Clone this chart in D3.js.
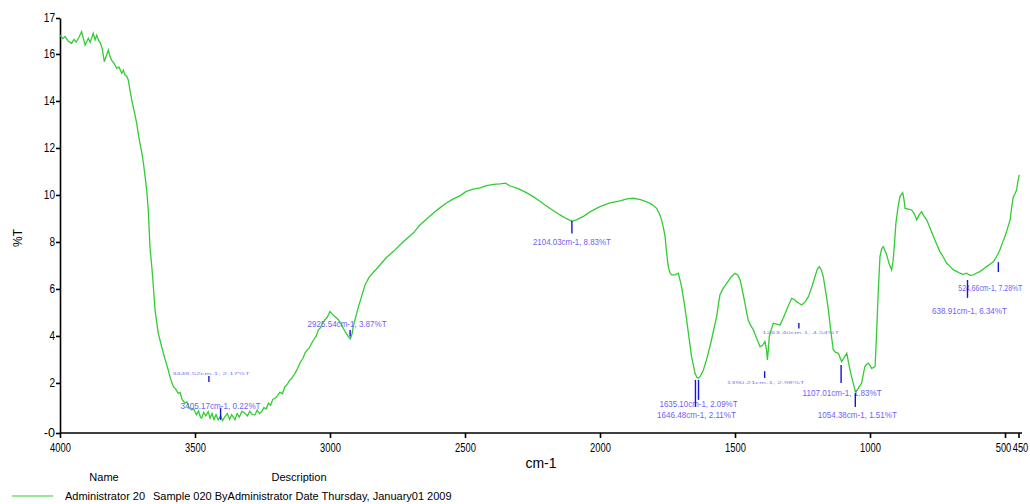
<!DOCTYPE html>
<meta charset="utf-8">
<style>
  body { margin: 0; background: #fff; }
  svg { font-family: "Liberation Sans Narrow", "Liberation Sans", Arial, sans-serif; }
  .axis path, .axis line { stroke: #000; stroke-width: 1.6px; }
  .axis text { font-size: 12px; fill: #000; }
  .peak-label { font-size: 9px; fill: #6f5ff5; }
  .peak-tick { stroke: #1414d8; stroke-width: 1.4px; }
</style>
<body>
<script src="https://d3js.org/d3.v7.min.js"></script>
<script>
// spectrum (wavenumber cm-1, %T)
var wavenumber = [4000,3990,3981,3970,3957,3948,3940,3930,3920,3912,3907,3900,3895,3888,3877,3870,3864,3858,3850,3843,3836,3829,3821,3815,3809,3800,3790,3782,3771,3765,3759,3753,3747,3740,3734,3728,3722,3716,3710,3704,3697,3691,3685,3679,3673,3670,3667,3662,3658,3653,3648,3642,3636,3627,3617,3608,3599,3590,3580,3572,3562,3555,3548,3537,3530,3522,3512,3505,3495,3487,3480,3475,3468,3460,3451,3444,3437,3430,3422,3414,3405,3398,3389,3380,3372,3364,3352,3344,3336,3326,3315,3306,3297,3288,3278,3270,3261,3253,3245,3236,3228,3220,3212,3204,3195,3186,3176,3167,3158,3150,3142,3133,3125,3117,3109,3100,3093,3085,3076,3068,3060,3051,3043,3035,3027,3019,3010,3000,2990,2981,2970,2957,2945,2932,2925,2918,2914,2905,2893,2880,2870,2855,2840,2828,2815,2790,2765,2741,2715,2690,2667,2640,2615,2593,2570,2545,2519,2495,2470,2444,2420,2395,2370,2350,2333,2305,2278,2250,2225,2204,2175,2148,2125,2104,2085,2060,2037,2000,1963,1926,1900,1877,1850,1827,1808,1790,1780,1772,1765,1759,1753,1747,1741,1735,1722,1710,1704,1698,1688,1679,1670,1661,1654,1648,1642,1636,1628,1617,1605,1593,1580,1568,1562,1556,1545,1531,1515,1500,1490,1481,1472,1463,1457,1451,1442,1432,1420,1407,1398,1389,1383,1380,1376,1373,1365,1358,1345,1333,1320,1309,1300,1290,1280,1272,1262,1253,1240,1228,1215,1204,1195,1188,1180,1173,1163,1154,1145,1136,1127,1117,1110,1105,1095,1086,1080,1074,1068,1062,1054,1047,1039,1031,1025,1019,1012,1006,1000,994,988,981,975,969,963,957,951,945,938,930,920,914,909,904,896,889,879,874,870,858,846,836,827,818,809,800,790,778,765,753,741,728,716,703,691,679,667,655,642,630,617,605,593,580,568,556,543,530,519,510,500,490,481,475,469,463,457,452,447];
var transmittance = [16.8,16.65,16.74,16.55,16.45,16.62,16.5,16.7,16.95,16.6,16.38,16.55,16.67,16.5,16.88,16.6,16.8,16.6,16.45,16.2,15.67,15.9,16.17,15.9,15.74,15.6,15.39,15.45,15.18,15.3,15.1,15.05,14.89,14.4,14.04,13.7,13.4,13.05,12.6,12.2,11.8,11.35,10.8,10.21,9.36,8.6,7.8,7.2,6.67,5.9,5.1,4.6,4.11,3.7,3.26,2.9,2.55,2.15,1.84,1.75,1.56,1.6,1.3,1.14,1.2,0.95,0.85,0.9,0.65,0.8,0.55,0.5,0.75,0.6,0.78,0.5,0.7,0.45,0.65,0.43,0.6,0.4,0.57,0.7,0.45,0.65,0.43,0.7,0.55,0.8,0.71,0.6,0.8,0.65,0.64,0.85,0.7,0.78,0.95,0.9,1.14,1.05,1.3,1.35,1.45,1.6,1.55,1.84,1.95,2.1,2.2,2.35,2.5,2.7,2.9,3.05,3.26,3.4,3.5,3.69,3.85,4.0,4.26,4.35,4.55,4.68,4.8,5.04,4.9,4.82,4.7,4.47,4.2,3.97,3.87,4.1,4.4,4.8,5.3,5.8,6.17,6.5,6.7,6.85,7.02,7.35,7.6,7.87,8.15,8.4,8.72,9.0,9.25,9.45,9.65,9.82,9.96,10.15,10.25,10.3,10.4,10.45,10.47,10.5,10.38,10.28,10.13,9.95,9.75,9.57,9.35,9.15,9.0,8.88,8.95,9.1,9.28,9.5,9.66,9.75,9.83,9.86,9.8,9.71,9.6,9.43,9.2,8.94,8.6,8.23,7.5,6.95,6.7,6.6,6.6,6.67,6.4,6.1,5.4,4.68,3.9,3.12,2.75,2.41,2.25,2.2,2.3,2.55,3.0,3.54,4.2,4.82,5.3,5.74,6.0,6.24,6.5,6.67,6.6,6.38,5.9,5.39,5.0,4.68,4.45,4.26,3.9,3.54,3.6,3.76,3.4,2.98,3.5,3.97,4.3,4.54,4.5,4.47,4.8,5.1,5.35,5.6,5.55,5.46,5.38,5.32,5.45,5.67,6.1,6.52,6.85,6.95,6.8,6.52,5.8,5.1,4.2,3.4,3.3,3.26,3.05,2.91,3.1,3.26,2.9,2.55,2.25,1.99,1.62,1.7,1.85,1.99,2.35,2.7,2.8,2.84,2.75,2.62,2.65,2.7,4.26,6.0,7.38,7.7,7.8,7.65,7.45,7.1,6.81,7.23,8.0,8.8,9.5,9.93,10.1,9.8,9.43,9.4,9.36,9.2,8.94,9.15,9.29,9.1,8.94,8.6,8.23,7.9,7.59,7.35,7.09,6.95,6.81,6.75,6.67,6.62,6.67,6.58,6.6,6.68,6.74,6.85,6.95,7.05,7.16,7.4,7.66,7.95,8.23,8.6,8.94,9.5,9.93,10.05,10.21,10.6,10.85];

var xTicks = [4000, 3500, 3000, 2500, 2000, 1500, 1000, 500, 450];
var yTickValues = [2, 4, 6, 8, 10, 12, 14, 16];
var yMin = -0.13, yMax = 17.53;
var yEndLabels = ["-0", "17"];

// peak annotations
var peakWn = [3405.17, 3448.52, 2925.54, 2104.03, 1635.10, 1646.48, 1390.21, 1263.40, 1107.01, 1054.38, 524.66, 638.91];
var peakText = ["3405.17cm-1, 0.22%T", "3448.52cm-1, 2.17%T", "2925.54cm-1, 3.87%T", "2104.03cm-1, 8.83%T",
  "1635.10cm-1, 2.09%T", "1646.48cm-1, 2.11%T", "1390.21cm-1, 2.98%T", "1263.40cm-1, 4.54%T",
  "1107.01cm-1, 1.83%T", "1054.38cm-1, 1.51%T", "524.66cm-1, 7.28%T", "638.91cm-1, 6.34%T"];

var legendName = "Administrator 20";
var legendDesc = "Sample 020 ByAdministrator Date Thursday, January01 2009";

var width = 1030, height = 504;
var svg = d3.select("body").append("svg")
  .attr("width", width).attr("height", height);

var x = d3.scaleLinear().domain([4000, 450]).range([60, 1018.5]);
var y = d3.scaleLinear().domain([yMin, yMax]).range([433, 18]);

// narrow tick labels, like the instrument software draws them
function squeeze(sel, perChar) {
  sel.each(function() {
    var n = this.textContent.length;
    d3.select(this).attr("textLength", n * perChar).attr("lengthAdjust", "spacingAndGlyphs");
  });
}

// x axis
var xAxis = svg.append("g").attr("class", "axis")
  .attr("transform", "translate(0,433)")
  .call(d3.axisBottom(x).tickValues(xTicks).tickSize(5).tickSizeOuter(0).tickFormat(d3.format("d")));
xAxis.select(".domain").attr("d", "M60,0H1022");
xAxis.selectAll("text").attr("dy", "0.9em").call(squeeze, 5.2);
// the last two labels sit side by side
xAxis.selectAll(".tick text").filter(function(d) { return d === 500; }).attr("x", -2);
xAxis.selectAll(".tick text").filter(function(d) { return d === 450; }).attr("x", 1.5);

// y axis
var yAxis = svg.append("g").attr("class", "axis")
  .attr("transform", "translate(60,0)")
  .call(d3.axisLeft(y).tickValues([yMin].concat(yTickValues, [yMax])).tickSize(4).tickSizeOuter(0)
    .tickFormat(function(d, i) {
      if (i === 0) return yEndLabels[0];
      if (d === yMax) return yEndLabels[1];
      return d;
    }));
yAxis.selectAll("text").attr("x", -5).call(squeeze, 5.6);

// axis titles
svg.append("text").attr("transform", "translate(22,238) rotate(-90)")
  .attr("text-anchor", "middle").style("font-size", "12px").text("%T");
svg.append("text").attr("x", 541).attr("y", 468)
  .attr("text-anchor", "middle").style("font-size", "14px").text("cm-1");

// spectrum
var pts = wavenumber.map(function(w, i) { return [w, transmittance[i]]; });
var line = d3.line().x(function(d) { return x(d[0]); }).y(function(d) { return y(d[1]); });
svg.append("path").datum(pts)
  .attr("d", line)
  .attr("fill", "none")
  .attr("stroke", "#33cc33")
  .attr("stroke-width", 1.3);

// annotation layout: [tick top %T, tick bottom %T, label centre dx, label %T, label width, squashed]
var annLayout = [
  [0.94, 0.43, 0, 1.0, 80, 0],
  [2.3, 2.04, 2, 2.47, 78, 1],
  [4.25, 3.98, -3, 4.5, 79, 0],
  [8.9, 8.36, 0, 7.98, 78, 0],
  [2.13, 1.28, 0, 1.1, 78, 0],
  [2.13, 0.98, 1, 0.62, 79, 0],
  [2.5, 2.21, 1, 2.1, 78, 1],
  [4.55, 4.32, 2, 4.2, 77, 1],
  [2.76, 2.0, 1, 1.57, 79, 0],
  [1.57, 0.98, 2, 0.63, 79, 0],
  [7.14, 6.72, -8, 6.06, 64, 0],
  [6.38, 5.62, 2, 5.08, 75, 0]
];

var ann = svg.append("g");
peakWn.forEach(function(w, i) {
  var L = annLayout[i];
  var px = x(w);
  ann.append("line").attr("class", "peak-tick")
    .attr("x1", px).attr("x2", px)
    .attr("y1", y(L[0])).attr("y2", y(L[1]));
  var t = ann.append("text").attr("class", "peak-label")
    .attr("x", px + L[2] - L[4] / 2).attr("y", y(L[3]) + 3)
    .attr("textLength", L[4]).attr("lengthAdjust", "spacingAndGlyphs")
    .text(peakText[i]);
  if (L[5]) t.style("font-size", "4px").style("opacity", 0.85);
});

// legend
svg.append("text").attr("x", 104).attr("y", 481).attr("text-anchor", "middle")
  .style("font-size", "11px").text("Name");
svg.append("text").attr("x", 299).attr("y", 481).attr("text-anchor", "middle")
  .style("font-size", "11px").text("Description");
svg.append("line").attr("x1", 12).attr("x2", 53).attr("y1", 496).attr("y2", 496)
  .attr("stroke", "#33cc33").attr("stroke-width", 1.2);
svg.append("text").attr("x", 65).attr("y", 500).style("font-size", "11px").text(legendName);
svg.append("text").attr("x", 153).attr("y", 500).style("font-size", "11px").text(legendDesc);
</script>
</body>
</html>
